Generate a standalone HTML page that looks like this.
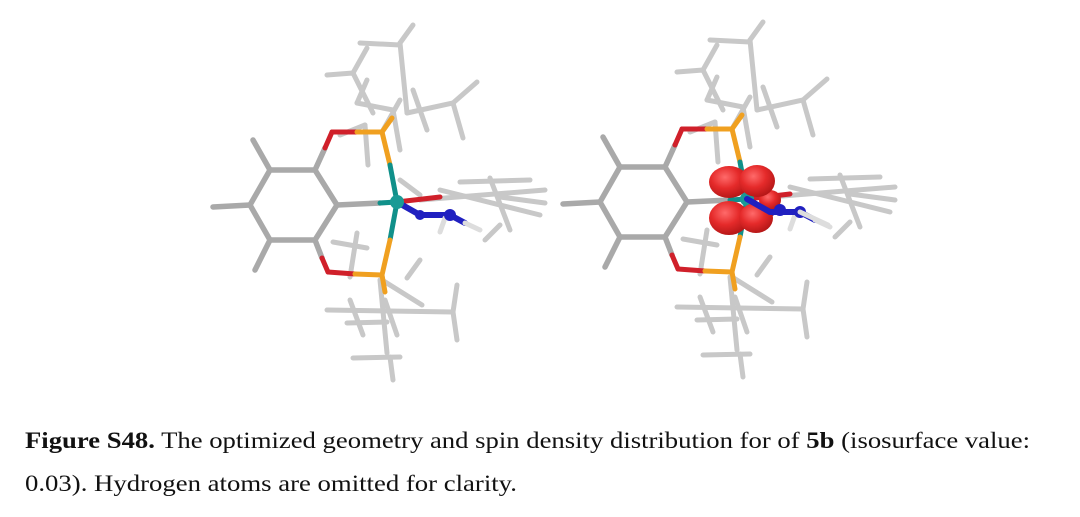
<!DOCTYPE html>
<html><head><meta charset="utf-8"><style>
html,body{margin:0;padding:0;background:#fff;}
svg{display:block;}
</style></head><body>
<svg width="1080" height="517" viewBox="0 0 1080 517" xmlns="http://www.w3.org/2000/svg">
<defs>
<radialGradient id="rg" cx="0.4" cy="0.35" r="0.7">
<stop offset="0" stop-color="#ff6a6a"/><stop offset="0.5" stop-color="#e52a2a"/><stop offset="1" stop-color="#b01515"/>
</radialGradient>
<g id="mol" stroke-linecap="round" fill="none">
<g stroke="#a9a9a9" stroke-width="5.5">
<polyline points="270,170 315,170 337,205 315,240 270,240 250,205 270,170"/>
<line x1="270" y1="170" x2="253" y2="140"/>
<line x1="250" y1="205" x2="213" y2="207"/>
<line x1="270" y1="240" x2="255" y2="270"/>
<line x1="337" y1="205" x2="380" y2="203"/>
<line x1="315" y1="170" x2="325" y2="148"/>
<line x1="315" y1="240" x2="322" y2="258"/>
</g>
<g stroke="#c8c8c8" stroke-width="5">
<line x1="400" y1="43" x2="407" y2="113"/>
<line x1="360" y1="43" x2="400" y2="45"/>
<line x1="400" y1="43" x2="413" y2="25"/>
<polyline points="407,113 453,103 477,82"/>
<line x1="453" y1="103" x2="463" y2="138"/>
<polyline points="327,75 353,73 373,113"/>
<line x1="353" y1="73" x2="367" y2="48"/>
<line x1="357" y1="103" x2="393" y2="110"/>
<line x1="393" y1="110" x2="400" y2="150"/>
<line x1="413" y1="90" x2="427" y2="130"/>
<line x1="382" y1="132" x2="400" y2="100"/>
<line x1="357" y1="103" x2="367" y2="80"/>
<line x1="340" y1="135" x2="365" y2="125"/>
<line x1="365" y1="125" x2="368" y2="165"/>
<line x1="380" y1="280" x2="387" y2="353"/>
<line x1="327" y1="310" x2="453" y2="312"/>
<line x1="347" y1="323" x2="387" y2="322"/>
<line x1="353" y1="358" x2="400" y2="357"/>
<line x1="390" y1="357" x2="393" y2="380"/>
<line x1="382" y1="280" x2="422" y2="305"/>
<line x1="407" y1="278" x2="420" y2="260"/>
<line x1="453" y1="312" x2="457" y2="340"/>
<line x1="453" y1="312" x2="457" y2="285"/>
<line x1="333" y1="242" x2="367" y2="248"/>
<line x1="357" y1="233" x2="350" y2="277"/>
<line x1="350" y1="300" x2="363" y2="335"/>
<line x1="385" y1="300" x2="397" y2="335"/>
<line x1="420" y1="200" x2="545" y2="190"/>
<line x1="440" y1="190" x2="540" y2="215"/>
<line x1="460" y1="182" x2="530" y2="180"/>
<line x1="490" y1="178" x2="510" y2="230"/>
<line x1="500" y1="225" x2="485" y2="240"/>
<line x1="500" y1="197" x2="545" y2="203"/>
<line x1="400" y1="180" x2="420" y2="195"/>
</g>
<g stroke-width="5">
<line x1="325" y1="148" x2="332" y2="132" stroke="#d0202a"/>
<line x1="332" y1="132" x2="357" y2="132" stroke="#d0202a"/>
<line x1="357" y1="132" x2="382" y2="132" stroke="#f0a020"/>
<line x1="382" y1="132" x2="390" y2="165" stroke="#f0a020"/>
<line x1="390" y1="165" x2="397" y2="202" stroke="#10908a"/>
<line x1="322" y1="258" x2="328" y2="272" stroke="#d0202a"/>
<line x1="328" y1="272" x2="355" y2="274" stroke="#d0202a"/>
<line x1="355" y1="274" x2="382" y2="275" stroke="#f0a020"/>
<line x1="397" y1="202" x2="390" y2="240" stroke="#10908a"/>
<line x1="390" y1="240" x2="382" y2="275" stroke="#f0a020"/>
<line x1="380" y1="203" x2="397" y2="202" stroke="#10908a"/>
<line x1="397" y1="202" x2="440" y2="197" stroke="#d0202a"/>
<line x1="382" y1="132" x2="392" y2="118" stroke="#f0a020"/>
<line x1="382" y1="275" x2="385" y2="292" stroke="#f0a020"/>
</g>
<g stroke-width="6">
<line x1="397" y1="202" x2="420" y2="215" stroke="#2020c0"/>
<line x1="420" y1="215" x2="450" y2="215" stroke="#2020c0"/>
<line x1="450" y1="215" x2="465" y2="223" stroke="#2020c0"/>
<line x1="465" y1="223" x2="480" y2="230" stroke="#dddddd" stroke-width="5"/>
<line x1="445" y1="218" x2="440" y2="232" stroke="#dddddd" stroke-width="5"/>
</g>
<circle cx="420" cy="215" r="5" fill="#2020c0"/>
<circle cx="450" cy="215" r="6" fill="#2020c0"/>
<circle cx="397" cy="202" r="7" fill="#1a9a95"/>
</g>
</defs>
<use href="#mol"/>
<use href="#mol" transform="translate(350,-3)"/>
<g fill="url(#rg)">
<ellipse cx="770" cy="200" rx="11" ry="10"/>
<ellipse cx="729" cy="182" rx="20" ry="16"/>
<ellipse cx="757" cy="181" rx="18" ry="16"/>
<ellipse cx="729" cy="218" rx="20" ry="17"/>
<ellipse cx="756" cy="218" rx="17" ry="15"/>
</g>
<g stroke-linecap="round">
<line x1="747" y1="199" x2="770" y2="212" stroke="#2020c0" stroke-width="6"/>
<line x1="770" y1="212" x2="800" y2="212" stroke="#2020c0" stroke-width="6"/>
<line x1="800" y1="212" x2="828" y2="225" stroke="#dddddd" stroke-width="5"/>
<circle cx="780" cy="210" r="6" fill="#2020c0"/>
</g>
<g font-family="'Liberation Serif',serif" font-size="23" fill="#111">
<text x="25" y="448" textLength="1005" lengthAdjust="spacingAndGlyphs"><tspan font-weight="bold">Figure S48.</tspan> The optimized geometry and spin density distribution for of <tspan font-weight="bold">5b</tspan> (isosurface value:</text>
<text x="25" y="491" textLength="492" lengthAdjust="spacingAndGlyphs">0.03). Hydrogen atoms are omitted for clarity.</text>
</g>
</svg>
</body></html>
